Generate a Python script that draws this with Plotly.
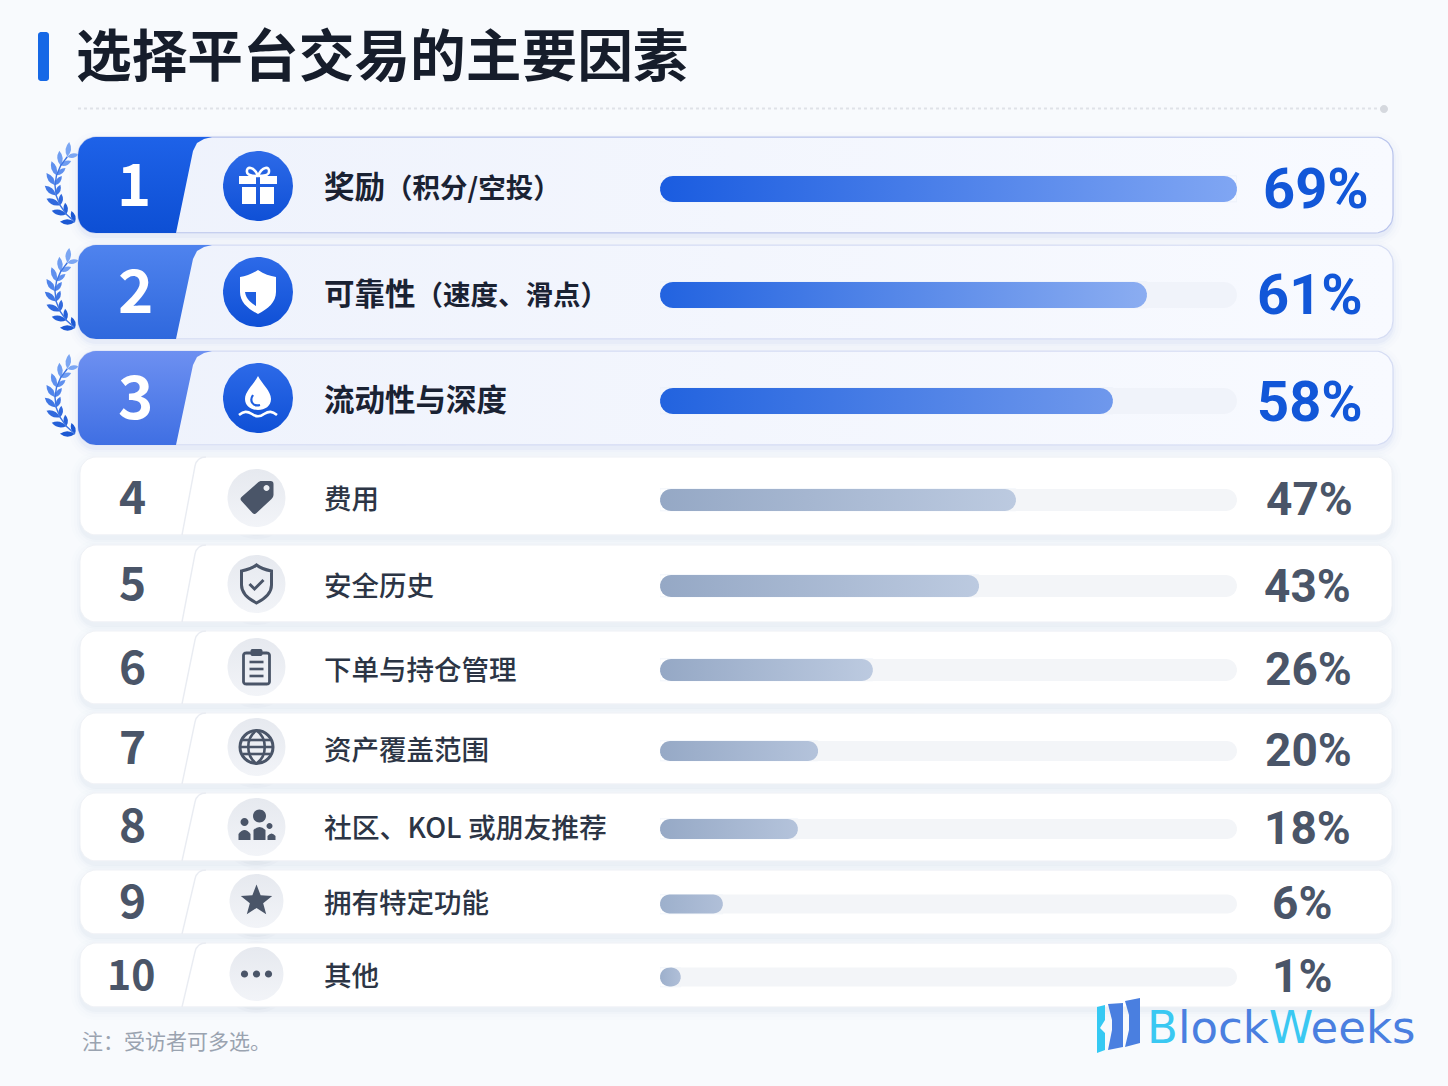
import re
import numpy as np
import plotly.graph_objects as go

# ---------- data ----------
ranks = ["1", "2", "3", "4", "5", "6", "7", "8", "9", "10"]
factors = ["奖励（积分/空投）", "可靠性（速度、滑点）", "流动性与深度", "费用", "安全历史",
           "下单与持仓管理", "资产覆盖范围", "社区、KOL 或朋友推荐", "拥有特定功能", "其他"]
percent_labels = ["69%", "61%", "58%", "47%", "43%", "26%", "20%", "18%", "6%", "1%"]
# drawn bar length, as a share of the grey track, measured in the picture
bar_fill = [100, 84.4, 78.5, 61.7, 55.3, 36.9, 27.4, 23.9, 10.9, 3.6]

# ---------- layout (pixels) ----------
card_top = [137, 245, 351, 457, 545, 631, 713, 793, 870, 943]
card_bot = [233, 339, 445, 535, 622, 704, 784, 861, 934, 1007]
bar_y = [189, 295, 401, 500, 586, 670, 751, 829, 904, 977]
bar_h = [26, 26, 26, 22, 22, 22, 20, 20, 19, 19]
icon_y = [186, 292, 398, 498, 584, 667, 747, 827, 901, 974]
icon_r = [35, 35, 35, 29, 29, 29, 29, 29, 27, 27]
label_y = [188, 295, 401, 499, 586, 670, 750, 828, 903, 976]
num_y = [186, 292, 398, 498, 584, 668, 748, 826, 902, 975]
num_x = [134, 135, 135, 132, 132, 132, 132, 132, 132, 130.5]
num_size = [58, 60, 60, 46, 46, 46, 46, 46, 46, 41]
pct_y = [188, 294, 401, 498, 585, 668, 749, 827, 902, 975]
pct_x = [1316, 1310, 1310, 1309, 1307, 1308, 1308, 1307, 1302, 1302]
bar_colors = [("#1a5ce0", "#80a6f3"), ("#2263e0", "#8badf1"), ("#2263df", "#6f98ec")] + \
             [("#95a8c5", "#bccae0")] * 3 + [("#96a9c6", "#b4c3db")] * 2 + [("#9db0cc", "#b0bfd8")] * 2
badge_colors = [("#1e62e8", "#0d4fd4"), ("#4f83ee", "#2f68dd"), ("#6d90f1", "#3f6fe3")]
leaf_colors = ["#7ba6f3", "#6f9df1", "#5f90ee", "#5084ea", "#3f76e4", "#3169dd", "#2560d8", "#1c58d3"]
CJK = "Noto Sans CJK SC"
SLATE = "#4a5568"
TRACK_X0, TRACK_X1 = 660, 1237
UNIT = 100 / (TRACK_X1 - TRACK_X0)

fig = go.Figure()
shapes = []


def arc(cx, cy, r, a0, a1, n=10):
    a = np.radians(np.linspace(a0, a1, n))
    return list(cx + r * np.cos(a)), list(cy + r * np.sin(a))


def rr_pts(x0, y0, x1, y1, r):
    xs, ys = [], []
    for cx, cy, a0 in [(x0 + r, y0 + r, 180), (x1 - r, y0 + r, 270), (x1 - r, y1 - r, 0), (x0 + r, y1 - r, 90)]:
        ax, ay = arc(cx, cy, r, a0, a0 + 90)
        xs += ax
        ys += ay
    return xs + xs[:1], ys + ys[:1]


def rr_path(x0, y0, x1, y1, r):
    xs, ys = rr_pts(x0, y0, x1, y1, r)
    return "M" + " L".join(f"{a:.2f},{b:.2f}" for a, b in zip(xs, ys)) + " Z"


def circle_d(x, y, r):
    k = 0.5523 * r
    return (f"M{x - r},{y} C{x - r},{y - k} {x - k},{y - r} {x},{y - r} C{x + k},{y - r} {x + r},{y - k} {x + r},{y} "
            f"C{x + r},{y + k} {x + k},{y + r} {x},{y + r} C{x - k},{y + r} {x - r},{y + k} {x - r},{y} Z")


def moved(d, dx, dy):
    nums = iter(range(10 ** 6))

    def rep(m):
        return f"{float(m.group()) + (dx if next(nums) % 2 == 0 else dy):.2f}"

    return re.sub(r"-?\d+\.?\d*", rep, d)


def shape(d, fill="rgba(0,0,0,0)", line=None, w=0, layer="below", opacity=1):
    shapes.append(dict(type="path", path=d, xref="x", yref="y", layer=layer, opacity=opacity, fillcolor=fill,
                       line=dict(color=line or "rgba(0,0,0,0)", width=w)))


def glyph(d, cx, cy, fill="rgba(0,0,0,0)", line=None, w=0):
    shape(moved(d, cx, cy), fill, line, w, layer="above")


def poly(xs, ys, c0=None, c1=None, kind="vertical", line=None, lw=0, fill=None, axis="x"):
    # a vertical fill gradient runs bottom to top on screen, so c0 (top colour) goes last
    scale = [[0, c1], [1, c0]] if kind == "vertical" else [[0, c0], [1, c1]]
    kw = dict(fillcolor=fill) if fill else dict(fillgradient=dict(type=kind, colorscale=scale))
    fig.add_trace(go.Scatter(x=xs, y=ys, mode="lines", fill="toself", xaxis=axis, yaxis="y",
                             line=dict(width=lw, color=line or "rgba(0,0,0,0)"),
                             hoverinfo="skip", showlegend=False, **kw))


def text(s, x, y, size, color, anchor="left", weight=400, family=CJK, shift=0.085):
    fig.add_annotation(text=s, x=x, y=y - shift * size, xref="x", yref="y", showarrow=False, xanchor=anchor,
                       yanchor="middle", font=dict(family=family, size=size, color=color, weight=weight),
                       borderpad=0, borderwidth=0)


def laurel(cy):
    """Wreath left of a top-3 badge."""
    n = len(leaf_colors)
    stem = []
    for i, col in enumerate(leaf_colors):
        phi = np.radians(215 - 80 * i / (n - 1))
        px, py = 123 + 68 * np.cos(phi), cy + 51 * np.sin(phi)
        stem.append(f"{px:.2f},{py:.2f}")
        tx, ty = 68 * np.sin(phi), -51 * np.cos(phi)
        norm = np.hypot(tx, ty)
        tx, ty = tx / norm, ty / norm
        if ty > 0:
            tx, ty = -tx, -ty
        for sgn, L, wid in ((-1, 15, 5.5), (1, 11.5, 4.5)):
            c, s = np.cos(sgn * 0.62), np.sin(sgn * 0.62)
            ux, uy = tx * c - ty * s, tx * s + ty * c
            ex, ey = px + ux * L, py + uy * L
            nx, ny = -uy, ux
            mx, my = px + ux * L * .5, py + uy * L * .5
            d = (f"M{px:.2f},{py:.2f} Q{mx + nx * wid:.2f},{my + ny * wid:.2f} {ex:.2f},{ey:.2f} "
                 f"Q{mx - nx * wid:.2f},{my - ny * wid:.2f} {px:.2f},{py:.2f} Z")
            shape(d, col)
    shape("M" + " L".join(stem), line="#3d74e2", w=1.4)


# ---------- icon glyphs, local pixels around the circle centre ----------
def icon(i, cx, cy):
    W = "#ffffff"
    B = "#1f5fe0"
    if i == 0:
        for d in ["M-19,-10 L-2,-10 L-2,-2 L-19,-2 Z", "M2,-10 L19,-10 L19,-2 L2,-2 Z",
                  "M-16,1 L-2,1 L-2,18 L-16,18 Z", "M2,1 L16,1 L16,18 L2,18 Z"]:
            glyph(d, cx, cy, W)
        glyph("M0,-10 C-4,-20 -12,-20 -11,-14 C-11,-11 -5,-10 0,-10", cx, cy, line=W, w=2.6)
        glyph("M0,-10 C4,-20 12,-20 11,-14 C11,-11 5,-10 0,-10", cx, cy, line=W, w=2.6)
    elif i == 1:
        glyph("M0,-22 C-6,-18 -12,-16 -18,-15 L-18,0 C-18,10 -10,17 0,22 C10,17 18,10 18,0 L18,-15 C12,-16 6,-18 0,-22 Z",
              cx, cy, W)
        glyph("M-13,0 L-2,0 L-2,14 C-7,11 -12,7 -13,0 Z", cx, cy, B)
    elif i == 2:
        glyph("M0,-22 C4,-14 13,-7 13,1 C13,8 7,12 0,12 C-7,12 -13,8 -13,1 C-13,-7 -4,-14 0,-22 Z", cx, cy, W)
        glyph("M-5,-3 C-9,3 -5,9 2,7", cx, cy, line=B, w=2.2)
        glyph("M-19,17 C-14,13 -11,13 -6,16 C-2,19 2,19 6,16 C11,13 14,13 19,17", cx, cy, line=W, w=2.6)
    elif i == 3:
        glyph("M4,-17 L14,-17 Q17,-17 17,-14 L17,-3 Q17,-1 15,1 L0,15 Q-2,17 -4,15 L-15,3 Q-17,1 -15,-1 L2,-16 Z",
              cx, cy, SLATE)
        glyph(circle_d(10, -10, 3), cx, cy, "#eceff4")
    elif i == 4:
        glyph("M0,-19 C-5,-15 -10,-14 -15,-13 L-15,1 C-15,9 -8,15 0,19 C8,15 15,9 15,1 L15,-13 C10,-14 5,-15 0,-19 Z",
              cx, cy, line=SLATE, w=3)
        glyph("M-7,0 L-2,5 L7,-4", cx, cy, line=SLATE, w=3)
    elif i == 5:
        glyph(rr_path(-13, -14, 13, 17, 2.5), cx, cy, line=SLATE, w=2.8)
        glyph(rr_path(-6, -18, 6, -11, 2), cx, cy, SLATE)
        for yy in (-5, 2, 9):
            glyph(f"M-7,{yy} L7,{yy}", cx, cy, line=SLATE, w=2.6)
    elif i == 6:
        glyph(circle_d(0, 0, 16.5), cx, cy, line=SLATE, w=3)
        glyph("M0,-16.5 C-11,-9 -11,9 0,16.5 C11,9 11,-9 0,-16.5 Z", cx, cy, line=SLATE, w=2.6)
        glyph("M-14,-7 L14,-7", cx, cy, line=SLATE, w=2.6)
        glyph("M-14,7 L14,7", cx, cy, line=SLATE, w=2.6)
        glyph("M-16,0 L16,0", cx, cy, line=SLATE, w=2.6)
    elif i == 7:
        for h in [(3, -11, 6.5), (-12, -5, 4), (13, -1, 3)]:
            glyph(circle_d(*h), cx, cy, SLATE)
        for d in ["M-3,13 L-3,3 Q3,-3 9,3 L9,13 Z", "M-18,13 L-18,7 Q-12,-1 -6,7 L-6,13 Z",
                  "M11,13 L11,9 Q15,4 19,9 L19,13 Z"]:
            glyph(d, cx, cy, SLATE)
    elif i == 8:
        a = np.radians(np.arange(10) * 36 - 90)
        r = np.where(np.arange(10) % 2 == 0, 16.5, 7)
        pts = [f"{x:.2f},{y:.2f}" for x, y in zip(r * np.cos(a), r * np.sin(a))]
        glyph("M" + " L".join(pts) + " Z", cx, cy, SLATE)
    else:
        for xx in (-12, 0, 12):
            glyph(circle_d(xx, 0, 3.6), cx, cy, SLATE)


def smaller_brackets(label):
    """In the reference the part in brackets is set a little smaller than the main label."""
    return re.sub(r"（.*）", lambda m: f'<span style="font-size:27.5px">{m.group()}</span>', label)


def capsule(val, y, h):
    a = np.radians(np.linspace(90, 270, 12))
    wpx = val / UNIT
    rad = min(h / 2, wpx / 2)
    xl = rad + rad * np.cos(a)
    xr = wpx - rad - rad * np.cos(a)
    yl = y + h / 2 * np.sin(a)
    yr = y - h / 2 * np.sin(a)
    return list(np.concatenate([xl, xr, xl[:1]]) * UNIT), list(np.concatenate([yl, yr, yl[:1]]))


# ---------- title area ----------
shape(rr_path(38, 32, 49, 81, 3), "#1668e6")
text("选择平台交易的主要因素", 76, 56, 55.7, "#161d2b", weight=700)
shapes.append(dict(type="line", x0=78, x1=1384, y0=108.5, y1=108.5, xref="x", yref="y", layer="below",
                   line=dict(color="#dfe2e8", width=2, dash="dot")))
shape(circle_d(1384, 109, 4), "#d5d8de")

# ---------- rows ----------
for i in range(10):
    top3 = i < 3
    x0 = 78 if top3 else 80
    x1 = 1393 if top3 else 1392
    t, b = card_top[i], card_bot[i]
    r = 18 if top3 else 16
    sc = "79,111,208" if top3 else "127,142,166"
    for k, al in ((9, .012), (6, .016), (3, .026), (1, .04)):
        shape(rr_path(x0 - k, t - k + 4, x1 + k, b + k + 4, r + k), f"rgba({sc},{al})")
    if top3:
        laurel(icon_y[i])
    xs, ys = rr_pts(x0, t, x1, b, r)
    if top3:
        poly(xs, ys, "#eef2fc", "#f8faff", "horizontal", line="#b9c4ec" if i == 0 else "#d5dcf3", lw=1.2)
        ax, ay = arc(x0 + r, t + r, r, 180, 270)
        bx, by = arc(x0 + r, b - r, r, 90, 180)
        px = ax + [212, 204, 197, 193, 176] + bx
        py = ay + [t, t + 2, t + 6, t + 14, b] + by
        poly(px + px[:1], py + py[:1], badge_colors[i][0], badge_colors[i][1])
    else:
        poly(xs, ys, fill="#ffffff", line="#f0f2f6", lw=1)
        shape(f"M206,{t} Q197,{t} 195,{t + 9} L182,{b}", line="#e9ecf2", w=1.4, layer="above")
    lsize = 30.5 if top3 else (27.8 if i == 7 else 27.5)
    text(ranks[i], num_x[i], num_y[i], num_size[i], "#ffffff" if top3 else SLATE, "center", 700)
    text(smaller_brackets(factors[i]), 324, label_y[i], lsize, "#1a2233" if top3 else "#2c3545", "left",
         700 if top3 else 500)
    text(percent_labels[i], pct_x[i], pct_y[i], 56 if top3 else 46, "#1257d8" if top3 else SLATE, "center", 700,
         "Roboto", -0.015)
    cx = 258 if top3 else 256.5
    cy, rad = icon_y[i], icon_r[i]
    for k, al in ((9, .03), (6, .05), (3, .07)):
        shape(circle_d(cx, cy + 3, rad + k), f"rgba(70,90,160,{al})" if top3 else f"rgba(120,130,150,{al})")
    ex, ey = arc(cx, cy, rad, 0, 360, 60)
    shape(circle_d(cx, cy + (1 if top3 else 2), rad + 2.5), "#ffffff")
    if top3:
        poly(ex, ey, "#2d6ae8", "#0f50d6")
    else:
        poly(ex, ey, "#e6e9ef", "#f2f4f8")
    icon(i, cx, cy)

# ---------- tracks and bars, on their own percentage axis ----------
for i, v in enumerate(bar_fill):
    tx, ty = capsule(100, bar_y[i], bar_h[i])
    poly(tx, ty, fill="#f0f3fa" if i < 3 else "#f3f5f8", axis="x2")
    bx, by = capsule(v, bar_y[i], bar_h[i])
    poly(bx, by, bar_colors[i][0], bar_colors[i][1], "horizontal", axis="x2")

fig.add_trace(go.Bar(x=bar_fill, y=bar_y, width=bar_h, orientation="h", xaxis="x2", yaxis="y",
                     marker=dict(color="rgba(0,0,0,0)"), customdata=factors, text=percent_labels,
                     textposition="none", hovertemplate="%{customdata}: %{text}<extra></extra>", showlegend=False))

# ---------- foot ----------
text("注：受访者可多选。", 82, 1042, 21, "#9aa3b0")
for d, c in [("M1097,1007 L1105,1005 L1105,1020 L1100,1028 L1105,1033 L1105,1050 L1097,1053 Z", "#35c9f3"),
             ("M1108,1004 L1123,1003 L1123,1047 L1108,1050 L1112,1030 L1112,1020 Z", "#4a7fe0"),
             ("M1125,1001 L1140,998 L1140,1043 L1125,1047 L1129,1030 L1129,1015 Z", "#4a7fe0")]:
    shape(d, c, layer="above")
text('<span style="color:#3ac8f2">B</span>lock<span style="color:#3ac8f2">W</span>eeks', 1147, 1028, 45,
     "#4a7fe0", "left", 400, "DejaVu Sans", 0.02)

fig.update_layout(
    width=1448, height=1086, margin=dict(l=0, r=0, t=0, b=0), paper_bgcolor="#f8fafd", plot_bgcolor="rgba(0,0,0,0)",
    showlegend=False, shapes=shapes, bargap=0, hovermode="closest",
    xaxis=dict(range=[0, 1448], domain=[0, 1], visible=False, fixedrange=True),
    xaxis2=dict(range=[0, 100], domain=[TRACK_X0 / 1448, TRACK_X1 / 1448], visible=False, anchor="y", fixedrange=True),
    yaxis=dict(range=[1086, 0], domain=[0, 1], visible=False, fixedrange=True),
)
fig.write_html("out.html", config=dict(displayModeBar=False),
               post_script="document.body.style.margin='0';document.body.style.overflow='hidden';")
